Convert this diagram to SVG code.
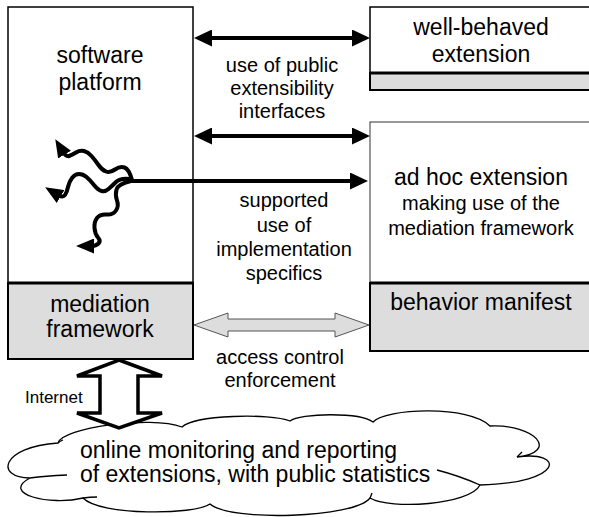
<svg xmlns="http://www.w3.org/2000/svg" width="589" height="517" viewBox="0 0 589 517">
<style>
text{font-family:"Liberation Sans",Arial,sans-serif;fill:#000}
.big{font-size:23px;text-anchor:middle}
.mid{font-size:20px;text-anchor:middle}
.box{fill:#fff;stroke:#000;stroke-width:1.5}
.gray{fill:#dddddd;stroke:#000;stroke-width:2}
.div{stroke:#000;stroke-width:3}
.conn{fill:none;stroke:#000;stroke-width:4}
.wig{fill:none;stroke:#000;stroke-width:4;stroke-linecap:round;stroke-linejoin:round}
.cloud{fill:#fff;stroke:#000;stroke-width:1.3}
.hook{fill:none;stroke:#000;stroke-width:1.3}
</style>
<defs>
<marker id="ah" viewBox="0 0 18 17" markerWidth="18" markerHeight="17" markerUnits="userSpaceOnUse" refX="5" refY="8.5" orient="auto-start-reverse">
<path d="M0,0 L18,8.5 L0,17 z" fill="#000"/>
</marker>
<marker id="wh" viewBox="0 0 18 15" markerWidth="18" markerHeight="15" markerUnits="userSpaceOnUse" refX="3" refY="7.5" orient="auto">
<path d="M0,0 L18,7.5 L0,15 z" fill="#000"/>
</marker>
</defs>

<g id="cloud">
<path class="cloud" d="M58,443 C62,428 150,415 182,427 C195,415 270,413 290,421 C300,413 360,412 373,422 C385,408 470,405 490,426 C535,424 560,452 517,457 C565,450 565,483 480,485 C470,505 390,510 370,498 C355,518 230,522 210,504 C195,515 100,516 83,498 C50,506 0,494 30,478 C-5,478 0,447 58,443 Z"/>
<path class="hook" d="M30,478 Q45,476 67,475 M83,498 Q90,497 97,497 M480,485 Q460,476 437,470 M370,498 Q371,496 372,493 M517,457 Q519,455 522,452 M58,443 Q60,441 63,440"/>
<text x="80" y="458" style="font-size:23px">online monitoring and reporting</text>
<text x="80" y="482" style="font-size:23px">of extensions, with public statistics</text>
</g>

<g id="software-platform">
<rect class="box" x="8" y="7" width="185" height="352"/>
<text class="big" x="100" y="63">software</text>
<text class="big" x="100" y="90">platform</text>
</g>

<g id="mediation-framework">
<rect class="gray" x="8" y="283" width="185" height="76"/>
<line class="div" x1="8" y1="283" x2="193" y2="283"/>
<text class="big" x="100" y="312">mediation</text>
<text class="big" x="100" y="337">framework</text>
</g>

<g id="well-behaved-extension">
<rect class="box" x="370" y="7" width="230" height="83"/>
<rect class="gray" x="370" y="73" width="230" height="17"/>
<line class="div" x1="370" y1="73" x2="600" y2="73"/>
<text class="big" x="481" y="35">well-behaved</text>
<text class="big" x="481" y="62">extension</text>
</g>

<g id="ad-hoc-extension">
<rect x="370" y="122" width="230" height="229" fill="#fff" stroke="#333" stroke-width="1"/>
<text class="big" x="481" y="185">ad hoc extension</text>
<text class="mid" x="481" y="210">making use of the</text>
<text class="mid" x="481" y="235">mediation framework</text>
</g>

<g id="behavior-manifest">
<rect class="gray" x="370" y="283" width="230" height="68"/>
<line class="div" x1="370" y1="283" x2="600" y2="283"/>
<text class="big" x="481" y="310">behavior manifest</text>
</g>

<g id="connectors">
<line class="conn" x1="207" y1="38" x2="357" y2="38" marker-start="url(#ah)" marker-end="url(#ah)"/>
<line class="conn" x1="207" y1="136" x2="357" y2="136" marker-start="url(#ah)" marker-end="url(#ah)"/>
<line class="conn" x1="128" y1="181" x2="355" y2="181" stroke-width="3.5" marker-end="url(#ah)"/>
<path class="wig" d="M132,180 Q129,169 124.5,167.5 Q120,166 115,169.5 Q110,173 106,171.5 Q102,170 98.5,165 Q95,160 91.5,156 Q88,152 84,151 Q80,150 76,152.5 Q72,155 69,156 Q66,157 63,152" marker-end="url(#wh)"/>
<path class="wig" d="M130,179 Q120,178 116,182 Q112,186 108.5,189 Q105,192 101.5,191 Q98,190 94,185 Q90,180 86.5,177 Q83,174 79,174 Q75,174 72,178 Q69,182 68,187 Q67,192 65,195 Q63,198 58,195" marker-end="url(#wh)"/>
<path class="wig" d="M131,181 Q118,184 116.5,189.5 Q115,195 117,200.5 Q119,206 116,210.5 Q113,215 106.5,214.5 Q100,214 97,218 Q94,222 94.5,228 Q95,234 98,237.5 Q101,241 98.5,243.5 Q96,246 91,246" marker-end="url(#wh)"/>
<polygon points="194,325 228,313 228,319 335,319 335,313 369,325 335,337 335,331 228,331 228,337" fill="#dddddd" stroke="#555" stroke-width="1"/>
<polygon points="119,360 162,376 138,376 138,413 162,413 119,428 77,413 100,413 100,376 77,376" fill="#fff" stroke="#000" stroke-width="3.5"/>
</g>

<g id="labels">
<text class="mid" x="282" y="72">use of public</text>
<text class="mid" x="282" y="95">extensibility</text>
<text class="mid" x="282" y="118">interfaces</text>
<text class="mid" x="284" y="207">supported</text>
<text class="mid" x="284" y="232">use of</text>
<text class="mid" x="284" y="256">implementation</text>
<text class="mid" x="284" y="280">specifics</text>
<text class="mid" x="280" y="364">access control</text>
<text class="mid" x="280" y="387">enforcement</text>
<text x="25" y="403" style="font-size:17px">Internet</text>
</g>
</svg>
